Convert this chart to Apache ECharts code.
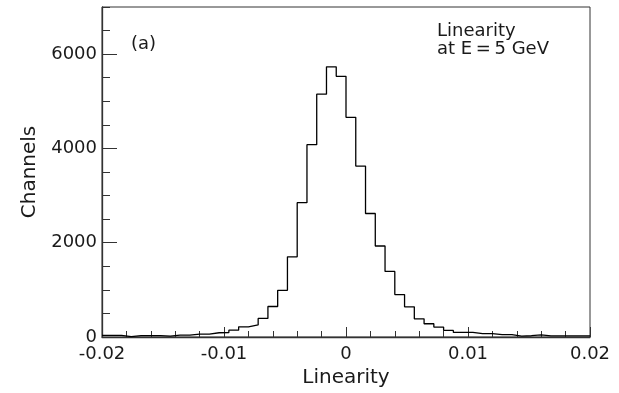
<!DOCTYPE html>
<html><head><meta charset="utf-8">
<script src="https://cdn.jsdelivr.net/npm/echarts@6/dist/echarts.min.js"></script>
<style>html,body{margin:0;padding:0;background:#fff}#c{width:619px;height:393px}</style>
</head><body><div id="c"></div>
<script>
// Histogram of linearity (bin edges start at binStart, fixed width binWidth)
const binStart = -0.02;
const binWidth = 0.0008;
const counts = [
  35, 35, 8, 28, 28, 28, 20, 40, 40, 60,
  60, 90, 95, 145, 215, 255, 395, 647, 990, 1700,
  2850, 4080, 5150, 5730, 5530, 4660, 3625, 2620, 1930, 1390,
  900, 640, 386, 281, 211, 140, 97, 97, 70, 70,
  49, 49, 20, 27, 45, 25, 25, 25, 25, 25
];
const xTickLabels = ['-0.02', '-0.01', '0', '0.01', '0.02'];
const yTickLabels = ['0', '2000', '4000', '6000'];
const xTitle = 'Linearity';
const yTitle = 'Channels';
const panelLabel = '(a)';
const noteLines = ['Linearity', 'at E\u2009=\u20095 GeV'];

const edges = counts.map((c, i) => +(binStart + i * binWidth).toFixed(5));
const data = counts.map((c, i) => [edges[i], c]);
data.push([+(binStart + counts.length * binWidth).toFixed(5), counts[counts.length - 1]]);

const FONT = 'DejaVu Sans';
const INK = '#1a1a1a';
const chart = echarts.init(document.getElementById('c'), null, {renderer: 'canvas'});
chart.setOption({
  animation: false,
  backgroundColor: '#fff',
  grid: {left: 102, right: 29, top: 7, bottom: 56, show: true, borderColor: '#333', borderWidth: 1},
  xAxis: {
    type: 'value', min: -0.02, max: 0.02, interval: 0.01,
    name: xTitle, nameLocation: 'middle', nameGap: 24,
    nameTextStyle: {fontFamily: FONT, fontSize: 20, color: INK},
    axisLine: {onZero: false, lineStyle: {color: '#333', width: 1.3}},
    axisTick: {inside: true, length: 10, lineStyle: {color: '#333'}},
    minorTick: {show: true, splitNumber: 5, length: 6, lineStyle: {color: '#333'}},
    axisLabel: {fontFamily: FONT, fontSize: 18, color: INK, margin: 8,
      formatter: v => { const k = Math.round((v + 0.02) / 0.01); return xTickLabels[k] ?? ''; }},
    splitLine: {show: false}
  },
  yAxis: [{
    type: 'value', min: 0, max: 7000, interval: 2000,
    name: yTitle, nameLocation: 'middle', nameGap: 54,
    nameTextStyle: {fontFamily: FONT, fontSize: 20, color: INK},
    axisLine: {show: true, onZero: false, lineStyle: {color: '#333', width: 1.3}},
    axisTick: {inside: true, length: 15, lineStyle: {color: '#333'}},
    axisLabel: {fontFamily: FONT, fontSize: 18, color: INK, margin: 5, showMaxLabel: false,
      formatter: v => { const k = Math.round(v / 2000); return (v % 2000 === 0 && yTickLabels[k]) ? yTickLabels[k] : ''; }},
    splitLine: {show: false}
  }, {
    type: 'value', min: 0, max: 7000, interval: 500, position: 'left',
    axisLine: {show: false, onZero: false},
    axisTick: {show: true, inside: true, length: 8, lineStyle: {color: '#333'}},
    axisLabel: {show: false},
    splitLine: {show: false}
  }],
  graphic: [
    {type: 'text', left: 131, top: 35, style: {text: panelLabel, font: '18px "DejaVu Sans"', fill: INK}},
    {type: 'text', left: 437, top: 22, style: {text: noteLines.join('\n'), font: '18px "DejaVu Sans"', lineHeight: 18, fill: INK}}
  ],
  series: [{
    type: 'line', step: 'end', data: data, yAxisIndex: 0,
    showSymbol: false, symbol: 'none', clip: true,
    lineStyle: {color: '#000', width: 1.3}
  }]
});
</script></body></html>
